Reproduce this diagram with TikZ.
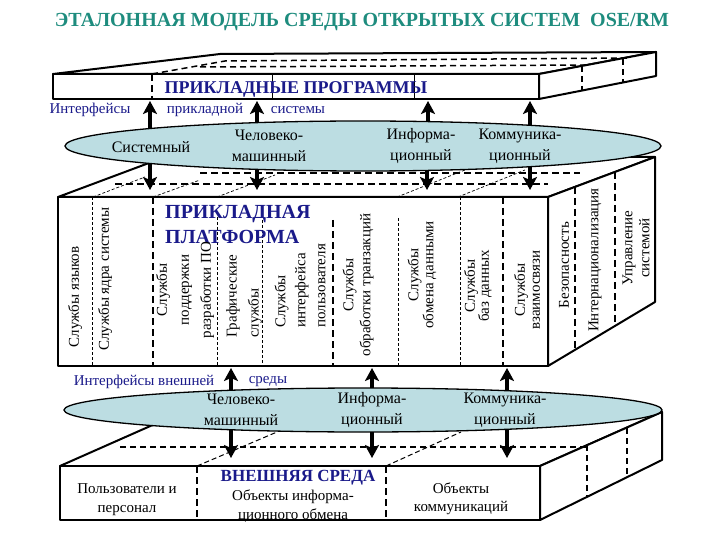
\documentclass[tikz,border=0pt]{standalone}
\usepackage{fontspec}
\setmainfont{Liberation Serif}
\newfontfamily\tnr{Liberation Serif}
\usetikzlibrary{shapes.geometric,arrows.meta}
\definecolor{teal1}{HTML}{1E8C7E}
\definecolor{navy1}{HTML}{1A1A8A}
\definecolor{ellfill}{HTML}{BCDDE2}
\newcommand{\fsz}[2]{\tnr\fontsize{#1}{#2}\selectfont}
\begin{document}
\begin{tikzpicture}[x=1pt,y=-1pt,
  box/.style={draw, line width=2pt, fill=white, line join=round},
  hd/.style={line width=2.4pt, dash pattern=on 7pt off 4pt},
  md/.style={line width=1.5pt, dash pattern=on 6pt off 4pt},
  td/.style={line width=0.7pt, dash pattern=on 3pt off 2pt},
  arr/.style={line width=3.2pt, -{Stealth[length=13pt,width=14pt,inset=3pt]}},
  vtxt/.style={rotate=90, font=\fsz{15}{17}, inner sep=0},
  etxt/.style={font=\fsz{16}{21}, align=center, inner sep=0},
  lbl/.style={font=\fsz{15}{17}, text=navy1, inner sep=0},
  ell/.style={ellipse, draw, line width=1.3pt, fill=ellfill, inner sep=0}]
\useasboundingbox (0,0) rectangle (720,540);

% title
\node[font=\fsz{20}{24}\bfseries, text=teal1] (title) at (362,22) {ЭТАЛОННАЯ МОДЕЛЬ СРЕДЫ ОТКРЫТЫХ СИСТЕМ\ \ OSE/RM};

% ---------- top box ----------
\draw[box] (53,74) -- (220,54) -- (656,52) -- (539,74) -- cycle;
\draw[box] (539,74) -- (656,52) -- (656,76) -- (539,99) -- cycle;
\draw[box] (53,74) rectangle (539,99);
\draw[md] (152,74) -- (225,61) -- (628,58);
\draw[md] (200,67) -- (590,65);
\draw[hd] (152,74) -- (152,99);
\draw[line width=0.7pt] (272,74) -- (272,99) (414,74) -- (414,99);
\draw[md] (582,66) -- (582,90);
\draw[md] (623,59) -- (623,82);
\node[font=\fsz{18}{20}\bfseries, text=navy1] (tbt) at (296,89) {ПРИКЛАДНЫЕ ПРОГРАММЫ};

% ---------- middle box ----------
\draw[box] (58,197) -- (165,157) -- (655,157) -- (548,197) -- cycle;
\draw[box] (548,197) -- (655,157) -- (655,302) -- (548,366) -- cycle;
\draw[box] (58,197) rectangle (548,366);
\draw[hd] (200,173) -- (580,173);
\draw[hd] (115,184) -- (548,184);
\draw[td] (93,197) -- (145,177) (153,197) -- (200,180) (217,197) -- (275,175)
          (397,197) -- (470,168) (458,197) -- (525,170);
\draw[td] (92,197) -- (92,366);
\draw[td] (217,217) -- (217,366);
\draw[td] (262,215) -- (262,366);
\draw[td] (398,218) -- (398,366);
\draw[td] (460,197) -- (460,366);
\draw[hd] (153,197) -- (153,366);
\draw[hd] (333,220) -- (333,366);
\draw[hd] (503,197) -- (503,366);
\draw[hd] (575,187) -- (575,350);
\draw[hd] (615,172) -- (615,326);

\node[font=\fsz{20}{25}\bfseries, text=navy1, align=left, anchor=west, inner sep=0] (plat) at (165,224.5) {ПРИКЛАДНАЯ\\ПЛАТФОРМА};

\node[vtxt] (c1) at (75,297) {Службы языков};
\node[vtxt] (c2) at (105,279) {Службы ядра системы};
\node[vtxt, align=center, font=\fsz{15}{22}] (c3) at (185,290) {Службы\\поддержки\\разработки ПО};
\node[vtxt, align=left, anchor=west, font=\fsz{15}{22}] (c4) at (244,338) {Графические\\службы};
\node[vtxt, align=left, anchor=west, font=\fsz{15}{20}] (c5) at (300,328) {Службы\\интерфейса\\пользователя};
\node[vtxt, align=center] (c6) at (358,285) {Службы\\обработки транзакций};
\node[vtxt, align=center, font=\fsz{15}{15}] (c7) at (422,275) {Службы\\обмена данными};
\node[vtxt, align=center, font=\fsz{15}{14}] (c8) at (478,286) {Службы\\баз данных};
\node[vtxt, align=center, font=\fsz{15}{15}] (c9) at (527,290) {Службы\\взаимосвязи};
\node[vtxt] (c10) at (564,265) {Безопасность};
\node[vtxt] (c11) at (595,260) {Интернационализация};
\node[vtxt, align=center] (c12) at (636,248) {Управление\\системой};

% ---------- bottom box ----------
\draw[box] (60,466) -- (182,412) -- (662,412) -- (540,466) -- cycle;
\draw[box] (540,466) -- (662,412) -- (662,460) -- (540,520) -- cycle;
\draw[box] (60,466) rectangle (540,520);
\draw[md] (120,447) -- (587,447);
\draw[md] (587,445) -- (587,497);
\draw[md] (627,428) -- (627,477);
\draw[td, line width=1pt, dash pattern=on 5pt off 3pt] (197,466) -- (277,432) (386,466) -- (461,432);
\draw[hd] (197,466) -- (197,520);
\draw[hd] (386,466) -- (386,520);
\node[font=\fsz{17}{20}\bfseries, text=navy1] (ext) at (298,478) {ВНЕШНЯЯ СРЕДА};
\node[etxt, font=\fsz{15}{19}] (b1) at (127,500) {Пользователи и\\персонал};
\node[etxt, font=\fsz{15}{19}] (b2) at (293,506) {Объекты информа-\\ционного обмена};
\node[etxt, font=\fsz{15}{18}] (b3) at (461,499) {Объекты\\коммуникаций};

% ---------- arrow end points ----------
\coordinate (e1c) at (363,146);
\coordinate (e2c) at (363,410);
\coordinate (ut1) at (150,101); \coordinate (ut2) at (257,101);
\coordinate (ut3) at (428,101); \coordinate (ut4) at (530,101);
\coordinate (dm1) at (150,190); \coordinate (dm2) at (257,190);
\coordinate (dm3) at (427,190); \coordinate (dm4) at (530,190);
\coordinate (um1) at (231,368); \coordinate (um2) at (372,368); \coordinate (um3) at (507,368);
\coordinate (db1) at (231,458); \coordinate (db2) at (372,458); \coordinate (db3) at (507,458);

\foreach \p in {ut1,ut2,ut3,ut4,dm1,dm2,dm3,dm4} \draw[arr] (e1c -| \p) -- (\p);
\foreach \p in {um1,um2,um3,db1,db2,db3} \draw[arr] (e2c -| \p) -- (\p);

% ---------- ellipses ----------
\node[ell, minimum width=596pt, minimum height=50pt] (e1) at (e1c) {};
\node[ell, minimum width=598pt, minimum height=44pt] (e2) at (e2c) {};

\node[etxt] (s1) at (151,147) {Системный};
\node[etxt] (s2) at (269,146) {Человеко-\\машинный};
\node[etxt] (s3) at (421,146) {Информа-\\ционный};
\node[etxt] (s4) at (520,146) {Коммуника-\\ционный};
\node[etxt] (x1) at (241,410) {Человеко-\\машинный};
\node[etxt] (x2) at (372,410) {Информа-\\ционный};
\node[etxt] (x3) at (505,410) {Коммуника-\\ционный};

% ---------- interface labels ----------
\node[lbl] (l1) at (90,110) {Интерфейсы};
\node[lbl] (l2) at (205,110) {прикладной};
\node[lbl] (l3) at (298,110) {системы};
\node[lbl] (l4) at (144,382) {Интерфейсы внешней};
\node[lbl] (l5) at (268,382) {среды};
\end{tikzpicture}
\end{document}
